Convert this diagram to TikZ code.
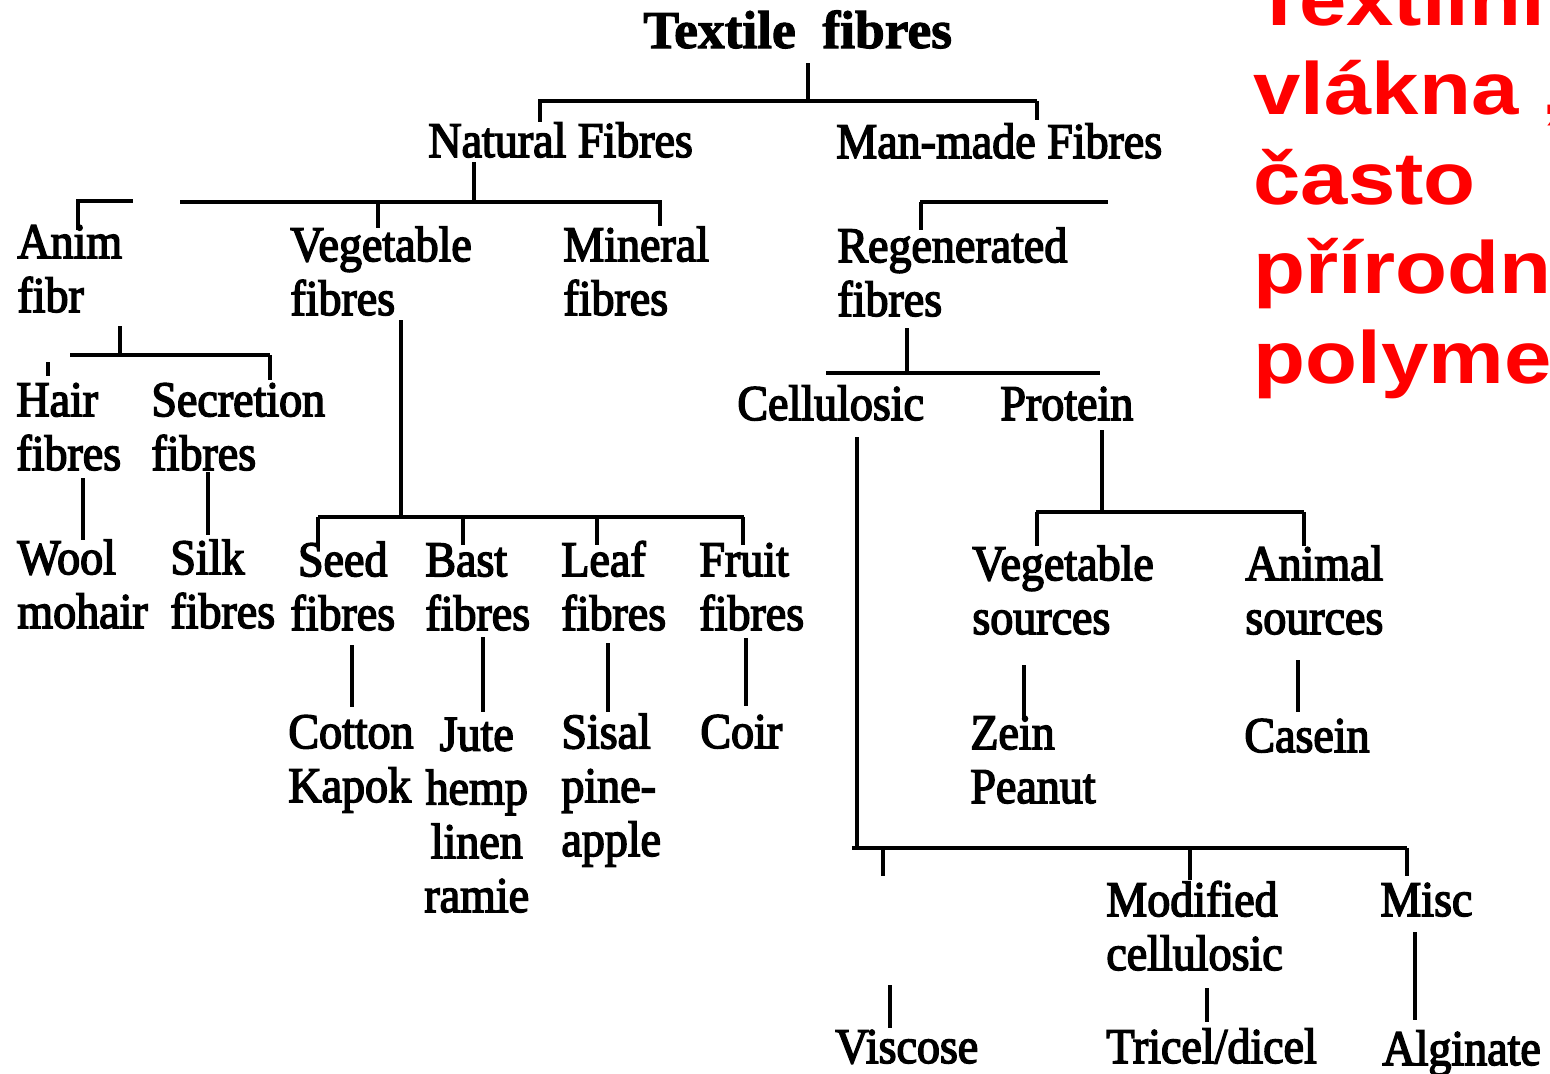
\documentclass[tikz,border=0pt]{standalone}
\usepackage{fontspec}
\newfontfamily\scanfont[FakeStretch=0.92,FakeBold=3]{Liberation Serif}
\newfontfamily\scanbold[FakeStretch=1.0,FakeBold=2]{Liberation Serif Bold}
\newfontfamily\redfont[FakeStretch=1.15]{Liberation Sans Bold}
\definecolor{slidered}{RGB}{255,0,0}
\tikzset{
  lbl/.style={anchor=base west, inner sep=0pt, align=left,
    font=\scanfont\fontsize{25}{26.9}\selectfont},
  lblc/.style={lbl, align=center},
  ttl/.style={anchor=base west, inner sep=0pt,
    font=\scanbold\fontsize{26.7}{28}\selectfont},
  bar/.style={line width=2.3pt},
  stem/.style={line width=1.7pt},
  red/.style={anchor=base west, inner sep=0pt, align=left, text=slidered,
    font=\redfont\fontsize{37}{44.75}\selectfont}
}
\begin{document}
\begin{tikzpicture}[x=0.5pt,y=-0.5pt]
\useasboundingbox (0,0) rectangle (1550,1073);
\begin{scope}
\clip (0,0) rectangle (1550,1073);
% ---------- text nodes (anchor = baseline of last line) ----------
\node[ttl] (tf) at (643,48) {Textile\ \ fibres};
\node[lbl] (nat) at (428,157) {Natural Fibres};
\node[lbl] (man) at (836,158) {Man-made Fibres};
\node[lbl] (anim) at (17,312) {Anim\\fibr};
\node[lbl] (veg) at (290,315) {Vegetable\\fibres};
\node[lbl] (min) at (563,315) {Mineral\\fibres};
\node[lbl] (reg) at (837,316) {Regenerated\\fibres};
\node[lbl] (cell) at (737,420) {Cellulosic};
\node[lbl] (prot) at (1000,420) {Protein};
\node[lbl] (hair) at (16,470) {Hair\\fibres};
\node[lbl] (secr) at (151,470) {Secretion\\fibres};
\node[lbl] (wool) at (17,628) {Wool\\mohair};
\node[lbl] (silk) at (170,628) {Silk\\fibres};
\node[lblc] (seed) at (290,630) {Seed\\fibres};
\node[lbl] (bast) at (425,630) {Bast\\fibres};
\node[lbl] (leaf) at (561,630) {Leaf\\fibres};
\node[lbl] (fruit) at (699,630) {Fruit\\fibres};
\node[lbl] (cot) at (288,802) {Cotton\\Kapok};
\node[lblc] (jute) at (424,912) {Jute\\hemp\\linen\\ramie};
\node[lbl] (sis) at (561,856) {Sisal\\pine-\\apple};
\node[lbl] (coir) at (700,748) {Coir};
\node[lbl] (vsrc) at (972,634) {Vegetable\\sources};
\node[lbl] (asrc) at (1245,634) {Animal\\sources};
\node[lbl] (zein) at (970,803) {Zein\\Peanut};
\node[lbl] (cas) at (1244,752) {Casein};
\node[lbl] (mod) at (1106,970) {Modified\\cellulosic};
\node[lbl] (misc) at (1380,916) {Misc};
\node[lbl] (visc) at (835,1063) {Viscose};
\node[lbl] (tri) at (1106,1063) {Tricel/dicel};
\node[lbl] (alg) at (1382,1065) {Alginate};
\node[red] (cz) at (1253,383) {Textilní\\vlákna „\\často\\přírodní\\polymery};
% ---------- junction coordinates ----------
\coordinate (j0a) at (808,63);   \coordinate (j0b) at (808,101);
\coordinate (b0l) at (538,101);  \coordinate (b0r) at (1037,101);
\coordinate (t0l) at (540,122);  \coordinate (t0r) at (1037,120);
\coordinate (j1a) at (474,162);  \coordinate (j1b) at (474,202);
\coordinate (b1l) at (180,202);  \coordinate (b1r) at (662,202);
\coordinate (t1v0) at (378,202); \coordinate (t1v) at (378,228);
\coordinate (t1m0) at (660,202); \coordinate (t1m) at (660,226);
\coordinate (a1) at (78,230);    \coordinate (a2) at (78,201); \coordinate (a3) at (133,201);
\coordinate (m1) at (920,202);   \coordinate (m2) at (1108,202);
\coordinate (m3) at (921,230);
\coordinate (r1) at (907,328);   \coordinate (r2) at (907,373);
\coordinate (rb1) at (826,373);  \coordinate (rb2) at (1100,373);
\coordinate (c1) at (857,437);   \coordinate (c2) at (857,848);
\coordinate (cb1) at (852,848);  \coordinate (cb2) at (1407,848);
\coordinate (ct1) at (883,848);  \coordinate (ct1b) at (883,876);
\coordinate (ct2) at (1190,848); \coordinate (ct2b) at (1190,880);
\coordinate (ct3b) at (1407,876);
\coordinate (p1) at (1102,430);  \coordinate (p2) at (1102,512);
\coordinate (pb1) at (1036,512); \coordinate (pb2) at (1304,512);
\coordinate (pt1) at (1037,546); \coordinate (pt2) at (1304,546);
\coordinate (pt1a) at (1037,512);
\coordinate (h1) at (120,326);   \coordinate (h2) at (120,355);
\coordinate (hb1) at (70,355);   \coordinate (hb2) at (270,355);
\coordinate (ht2) at (270,380);
\coordinate (hm1) at (48,362);   \coordinate (hm2) at (48,376);
\coordinate (v1) at (401,320);   \coordinate (v2) at (401,517);
\coordinate (vb1) at (318,517);  \coordinate (vb2) at (744,517);
% ---------- connectors ----------
\draw[stem] (j0a) -- (j0b);
\draw[bar] (b0l) -- (b0r);
\draw[stem] (b0l -| t0l) -- (t0l);
\draw[stem] (b0r) -- (t0r);
\draw[stem] (j1a) -- (j1b);
\draw[bar] (b1l) -- (b1r);
\draw[stem] (t1v0) -- (t1v);
\draw[stem] (t1m0) -- (t1m);
\draw[bar] (a1) -- (a2) -- (a3);
\draw[bar] (m1) -- (m2);
\draw[stem] (m1 -| m3) -- (m3);
\draw[stem] (r1) -- (r2);
\draw[bar] (rb1) -- (rb2);
\draw[stem] (c1) -- (c2);
\draw[bar] (cb1) -- (cb2);
\draw[stem] (ct1) -- (ct1b);
\draw[stem] (ct2) -- (ct2b);
\draw[stem] (cb2) -- (ct3b);
\draw[stem] (p1) -- (p2);
\draw[bar] (pb1) -- (pb2);
\draw[stem] (pt1a) -- (pt1);
\draw[stem] (pb2) -- (pt2);
\draw[stem] (h1) -- (h2);
\draw[bar] (hb1) -- (hb2);
\draw[stem] (hb2) -- (ht2);
\draw[stem] (hm1) -- (hm2);
\draw[stem] (83,478) -- (83,540);
\draw[stem] (208,472) -- (208,535);
\draw[stem] (v1) -- (v2);
\draw[bar] (vb1) -- (vb2);
\foreach \tx in {318,463,597,743} \draw[stem] (\tx,517) -- (\tx,545);
\draw[stem] (352,645) -- (352,707);
\draw[stem] (483,637) -- (483,712);
\draw[stem] (608,643) -- (608,712);
\draw[stem] (746,638) -- (746,706);
\draw[stem] (1024,665) -- (1024,718);
\draw[stem] (1298,660) -- (1298,712);
\draw[stem] (890,985) -- (890,1028);
\draw[stem] (1207,988) -- (1207,1022);
\draw[stem] (1415,932) -- (1415,1020);
\end{scope}
\end{tikzpicture}
\end{document}
